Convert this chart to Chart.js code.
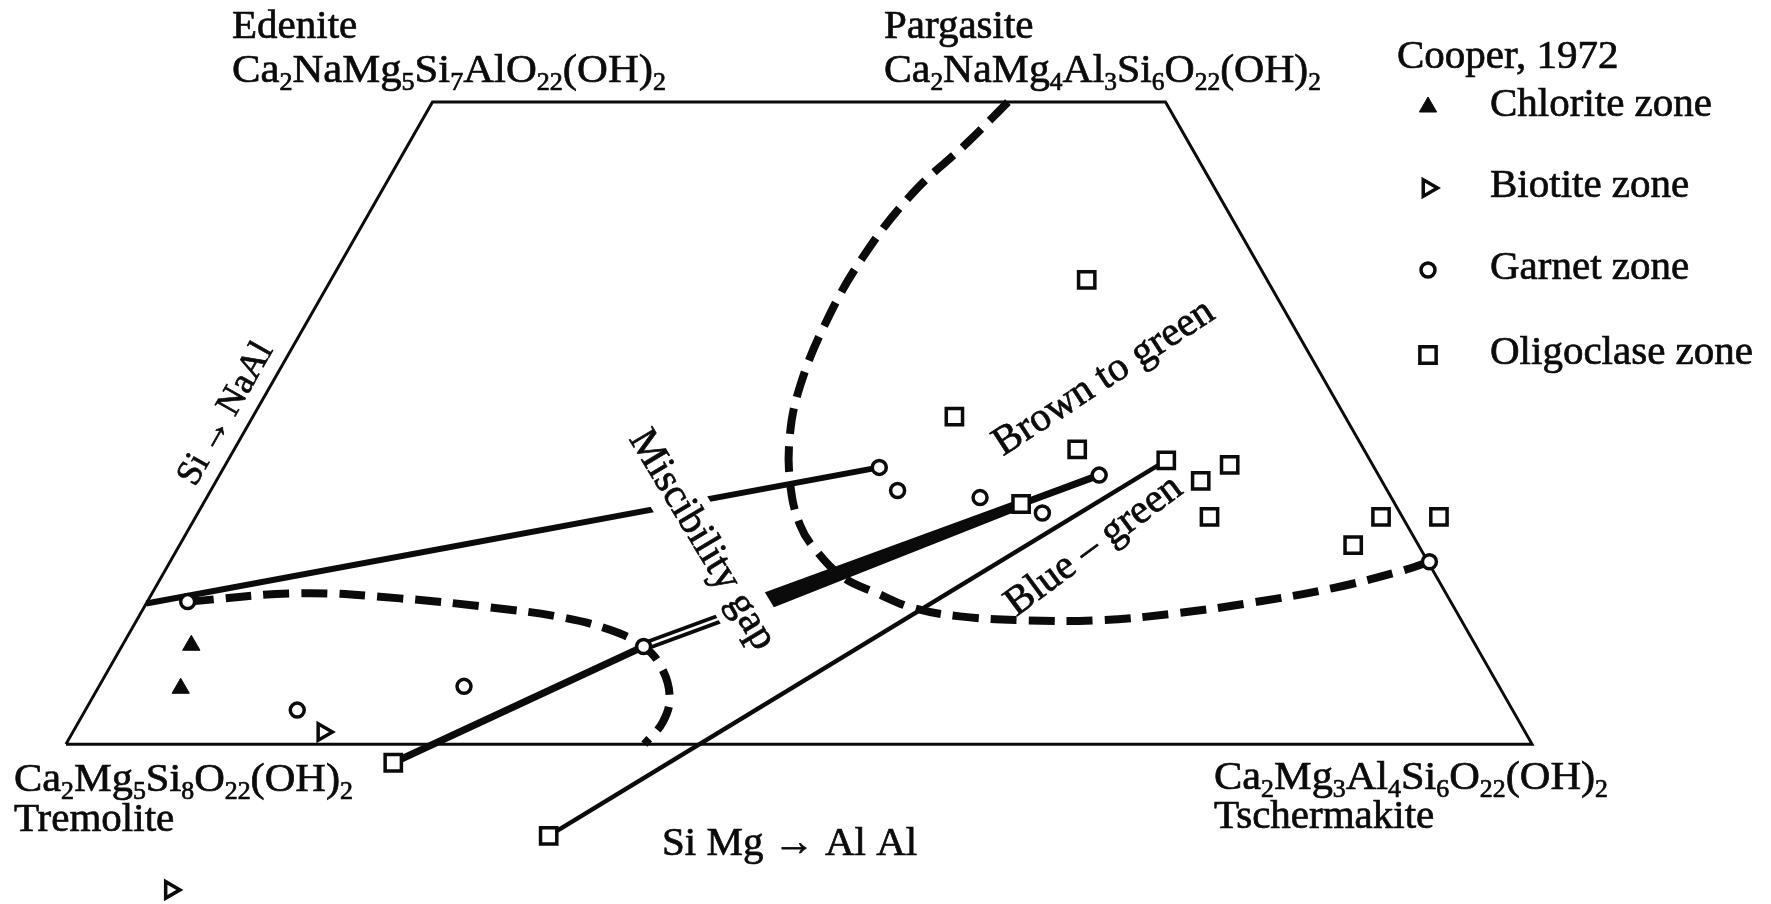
<!DOCTYPE html>
<html lang="en">
<head>
<meta charset="utf-8">
<title>Calcic amphiboles, Cooper 1972</title>
<script src="https://cdn.jsdelivr.net/npm/chart.js@4.4.1/dist/chart.umd.min.js"></script>
<style>
	html, body { margin: 0; padding: 0; background: #fff; }
	#wrap { position: relative; width: 1771px; height: 904px; }
</style>
</head>
<body>
<div id="wrap"><canvas id="amphibole"></canvas></div>
<script>
// ── Data ─────────────────────────────────────────────────────────────────────
// Every composition is [Si Mg → Al Al, Si → NaAl], counted from tremolite.

const END_MEMBERS = [[0, 0], [0, 1], [1, 1], [2, 0], [0, 0]] // Tr, Ed, Parg, Ts, Tr

const CHLORITE_ZONE = [[0.094, 0.154], [0.113, 0.087]]
const BIOTITE_ZONE = [[0.341, 0.019], [0.256, -0.227]]
const GARNET_ZONE = [
	[0.055, 0.222], [0.289, 0.053], [0.498, 0.090], [0.712, 0.152], [0.894, 0.431],
	[0.937, 0.395], [1.055, 0.384], [1.152, 0.360], [1.200, 0.419], [1.718, 0.284],
]
const OLIGOCLASE_ZONE = [
	[0.461, -0.029], [0.730, -0.143], [0.957, 0.510], [1.116, 0.374], [1.031, 0.723],
	[1.150, 0.459], [1.280, 0.442], [1.370, 0.435], [1.343, 0.410], [1.383, 0.354],
	[1.617, 0.354], [1.696, 0.354], [1.601, 0.310],
]

// coexisting pairs / zoning trends
const EDENITIC_TIE = [[0, 0.219], [0.894, 0.431]]
const BROWN_TO_GREEN = [[0.461, -0.029], [0.712, 0.152], [0.819, 0.209], [1.116, 0.374], [1.200, 0.419]]
const BLUE_GREEN = [[0.730, -0.143], [1.280, 0.442]]

// limbs of the miscibility gap
const GAP_LOW = [
	[0.055, 0.222], [0.202, 0.235], [0.342, 0.227], [0.472, 0.213], [0.575, 0.198], [0.653, 0.178],
	[0.712, 0.152], [0.754, 0.118], [0.787, 0.073], [0.797, 0.034], [0.789, 0.0],
]
const GAP_HIGH = [
	[0.785, 1.000], [0.761, 0.936], [0.726, 0.858], [0.708, 0.759], [0.708, 0.660], [0.723, 0.556],
	[0.750, 0.474], [0.791, 0.396], [0.831, 0.341], [0.866, 0.307], [0.930, 0.260], [0.989, 0.235],
	[1.050, 0.212], [1.120, 0.199], [1.205, 0.193], [1.314, 0.193], [1.414, 0.204], [1.506, 0.220],
	[1.607, 0.243], [1.685, 0.269], [1.718, 0.284],
]

const LEGEND_TITLE = 'Cooper, 1972'
const ZONE_NAMES = ['Chlorite zone', 'Biotite zone', 'Garnet zone', 'Oligoclase zone']

// ── Styles ───────────────────────────────────────────────────────────────────

const INK = '#0b0b0b'
const SERIF = '"Liberation Serif", "Times New Roman", serif'
const FONT_SIZE = 41
const SKEW = 0.5 // the NaAl axis leans right by half a unit per unit

const toXY = ([t, e]) => ({ x: t + SKEW * e, y: e })

const ZONE_STYLES = [
	{ pointStyle: 'triangle', pointRadius: 10, pointRotation: 0, pointBackgroundColor: INK, pointBorderColor: INK, pointBorderWidth: 1 },
	{ pointStyle: 'triangle', pointRadius: 9.5, pointRotation: 90, pointBackgroundColor: '#fff', pointBorderColor: INK, pointBorderWidth: 3.5 },
	{ pointStyle: 'circle', pointRadius: 7, pointRotation: 0, pointBackgroundColor: '#fff', pointBorderColor: INK, pointBorderWidth: 3.5 },
	{ pointStyle: 'rect', pointRadius: 11.5, pointRotation: 0, pointBackgroundColor: '#fff', pointBorderColor: INK, pointBorderWidth: 3.5 },
]

const BROWN_WIDTHS = [7, 10, 9, 7] // per segment; the third one is widened by the taper plugin
const BROWN_TAPER = [9, 5]

function markers(label, pts, style) {
	return Object.assign({ label, data: pts.map(toXY), showLine: false, order: 0 }, style)
}

function line(label, pts, style) {
	return Object.assign({
		label,
		data: pts.map(toXY),
		showLine: true,
		pointRadius: 0,
		borderColor: INK,
		borderWidth: 4,
		fill: false,
		tension: 0,
		order: 2,
	}, style)
}

const datasets = [
	markers(ZONE_NAMES[0], CHLORITE_ZONE, ZONE_STYLES[0]),
	markers(ZONE_NAMES[1], BIOTITE_ZONE, ZONE_STYLES[1]),
	markers(ZONE_NAMES[2], GARNET_ZONE, ZONE_STYLES[2]),
	markers(ZONE_NAMES[3], OLIGOCLASE_ZONE, ZONE_STYLES[3]),
	// white core that splits the brown trend into a double line
	line('double core', BROWN_TO_GREEN.slice(1, 3), { borderColor: '#fff', borderWidth: 2.5, order: 1 }),
	line('Brown to green', BROWN_TO_GREEN, {
		segment: { borderWidth: c => BROWN_WIDTHS[c.p0DataIndex] },
	}),
	line('Edenitic tie', EDENITIC_TIE, { borderWidth: 6 }),
	line('Blue - green', BLUE_GREEN, { borderWidth: 4.5 }),
	line('Gap low', GAP_LOW, { borderWidth: 8, borderDash: [26, 12], tension: 0.4 }),
	line('Gap high', GAP_HIGH, { borderWidth: 8, borderDash: [26, 12], tension: 0.4 }),
	line('Frame', END_MEMBERS, { borderWidth: 3, borderJoinStyle: 'miter', order: 3 }),
]

// ── Labels ───────────────────────────────────────────────────────────────────
// {n} marks a subscript

const PLAIN_LABELS = [
	{ text: 'Edenite', x: 232, y: 38 },
	{ text: 'Ca{2}NaMg{5}Si{7}AlO{22}(OH){2}', x: 232, y: 82, width: 434 },
	{ text: 'Pargasite', x: 884, y: 38 },
	{ text: 'Ca{2}NaMg{4}Al{3}Si{6}O{22}(OH){2}', x: 884, y: 82, width: 437 },
	{ text: 'Ca{2}Mg{5}Si{8}O{22}(OH){2}', x: 14, y: 791, width: 339 },
	{ text: 'Tremolite', x: 14, y: 831 },
	{ text: 'Ca{2}Mg{3}Al{4}Si{6}O{22}(OH){2}', x: 1214, y: 789, width: 394 },
	{ text: 'Tschermakite', x: 1214, y: 828 },
	{ text: 'Si Mg → Al Al', x: 662, y: 855 },
	{ text: LEGEND_TITLE, x: 1397, y: 68 },
]

const ROTATED_LABELS = [
	{ text: 'Si\u2009→\u2009NaAl', x: 226, y: 414, angle: -60.4, size: 36 },
	{ text: 'Miscibility gap', x: 702, y: 540, angle: 59, knockout: 27 },
	{ text: 'Brown to green', x: 1104, y: 378, angle: -33 },
	{ text: 'Blue – green', x: 1094, y: 546, angle: -36.5 },
]

const LEGEND = { markerX: 1428, textX: 1490, rows: [107, 188, 270, 355] }

function drawFormula(ctx, text, x, y, width) {
	const runs = []
	text.replace(/([^{}]+)|\{([^}]*)\}/g, (m, main, sub) => {
		runs.push(main ? { t: main, sub: false } : { t: sub, sub: true })
	})
	const font = r => `${r.sub ? Math.round(FONT_SIZE * 0.62) : FONT_SIZE}px ${SERIF}`
	let total = 0
	runs.forEach(r => {
		ctx.font = font(r)
		r.w = ctx.measureText(r.t).width
		total += r.w
	})
	ctx.save()
	ctx.translate(x, y)
	if (width) ctx.scale(width / total, 1)
	let cx = 0
	runs.forEach(r => {
		ctx.font = font(r)
		const dy = r.sub ? FONT_SIZE * 0.2 : 0
		ctx.fillText(r.t, cx, dy)
		ctx.strokeText(r.t, cx, dy)
		cx += r.w
	})
	ctx.restore()
}

function drawMarker(ctx, s, x, y) {
	const r = s.pointRadius
	const rad = (s.pointRotation || 0) * Math.PI / 180
	ctx.save()
	ctx.fillStyle = s.pointBackgroundColor
	ctx.strokeStyle = s.pointBorderColor
	ctx.lineWidth = s.pointBorderWidth
	ctx.beginPath()
	if (s.pointStyle === 'circle') {
		ctx.arc(x, y, r, 0, Math.PI * 2)
	} else if (s.pointStyle === 'rect') {
		const h = r * Math.SQRT1_2
		ctx.rect(x - h, y - h, 2 * h, 2 * h)
	} else {
		for (let i = 0; i < 3; i++) {
			const a = rad + i * 2 * Math.PI / 3
			const px = x + Math.sin(a) * r
			const py = y - Math.cos(a) * r
			i ? ctx.lineTo(px, py) : ctx.moveTo(px, py)
		}
		ctx.closePath()
	}
	ctx.fill()
	ctx.stroke()
	ctx.restore()
}

// widens the middle of the brown trend into a wedge
const taperPlugin = {
	id: 'taper',
	beforeDatasetsDraw(chart) {
		const idx = chart.data.datasets.findIndex(d => d.label === 'Brown to green')
		const pts = chart.getDatasetMeta(idx).data
		const a = pts[2], b = pts[3]
		const len = Math.hypot(b.x - a.x, b.y - a.y)
		const nx = -(b.y - a.y) / len, ny = (b.x - a.x) / len
		const [w0, w1] = BROWN_TAPER
		const ctx = chart.ctx
		ctx.save()
		ctx.fillStyle = INK
		ctx.beginPath()
		ctx.moveTo(a.x + nx * w0, a.y + ny * w0)
		ctx.lineTo(b.x + nx * w1, b.y + ny * w1)
		ctx.lineTo(b.x - nx * w1, b.y - ny * w1)
		ctx.lineTo(a.x - nx * w0, a.y - ny * w0)
		ctx.closePath()
		ctx.fill()
		ctx.restore()
	},
}

const labelPlugin = {
	id: 'labels',
	afterDatasetsDraw(chart) {
		const ctx = chart.ctx
		ctx.save()
		ctx.fillStyle = INK
		ctx.strokeStyle = INK
		ctx.lineWidth = 0.7
		ctx.textBaseline = 'alphabetic'
		ctx.textAlign = 'left'
		PLAIN_LABELS.forEach(l => drawFormula(ctx, l.text, l.x, l.y, l.width))

		ROTATED_LABELS.forEach(l => {
			ctx.save()
			ctx.translate(l.x, l.y)
			ctx.rotate(l.angle * Math.PI / 180)
			ctx.font = `${l.size || FONT_SIZE}px ${SERIF}`
			ctx.textAlign = 'center'
			ctx.textBaseline = 'middle'
			if (l.knockout) {
				const w = ctx.measureText(l.text).width
				ctx.fillStyle = '#fff'
				ctx.fillRect(-w / 2 - 4, -l.knockout, w + 8, l.knockout * 2)
				ctx.fillStyle = INK
			}
			ctx.fillText(l.text, 0, 0)
			ctx.strokeText(l.text, 0, 0)
			ctx.restore()
		})

		ZONE_NAMES.forEach((name, i) => {
			const y = LEGEND.rows[i]
			drawMarker(ctx, ZONE_STYLES[i], LEGEND.markerX, y)
			ctx.font = `${FONT_SIZE}px ${SERIF}`
			ctx.fillStyle = INK
			ctx.strokeStyle = INK
			ctx.lineWidth = 0.7
			ctx.fillText(name, LEGEND.textX, y + 9)
			ctx.strokeText(name, LEGEND.textX, y + 9)
		})
		ctx.restore()
	},
}

new Chart(document.getElementById('amphibole'), {
	type: 'line',
	data: { datasets },
	options: {
		responsive: true,
		maintainAspectRatio: false,
		animation: false,
		events: [],
		layout: { padding: 0, autoPadding: false },
		scales: {
			x: { type: 'linear', min: -0.090, max: 2.326, display: false },
			y: { type: 'linear', min: -0.249, max: 1.159, display: false },
		},
		plugins: {
			legend: { display: false },
			tooltip: { enabled: false },
		},
	},
	plugins: [taperPlugin, labelPlugin],
})
</script>
</body>
</html>
